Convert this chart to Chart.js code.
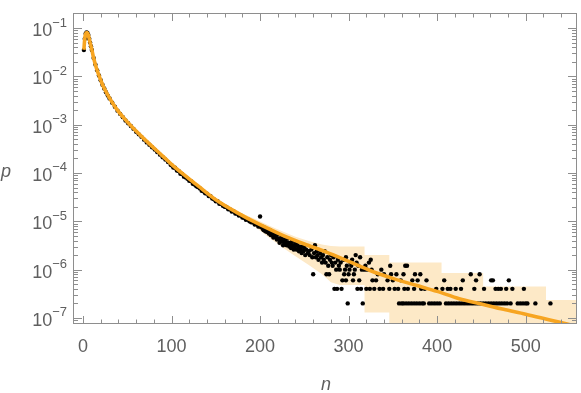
<!DOCTYPE html>
<html>
<head>
<meta charset="utf-8">
<script src="https://cdn.jsdelivr.net/npm/chart.js@4.4.1/dist/chart.umd.min.js"></script>
<style>
  body { margin: 0; background: #fff; }
  canvas { display: block; }
</style>
</head>
<body>
<canvas id="chart" width="581" height="393"></canvas>
<script>
// fitted curve p(n)
const curveN = [1, 2, 3, 4, 5, 6, 8, 10, 12, 15,
                18, 22, 26, 30, 38, 48, 60, 75, 90, 100,
                115, 130, 150, 175, 200, 225, 250, 275, 300, 325,
                350, 375, 400, 425, 450, 475, 500, 525, 550, 560];
const curveP = [3.55e-2, 6.0e-2, 7.6e-2, 8.1e-2, 7.9e-2, 7.2e-2, 5.0e-2, 3.55e-2, 2.4e-2, 1.5e-2,
                1.05e-2, 6.8e-3, 4.8e-3, 3.55e-3, 2.1e-3, 1.26e-3, 7.4e-4, 4.0e-4, 2.24e-4, 1.51e-4,
                8.9e-5, 5.4e-5, 2.8e-5, 1.48e-5, 8.5e-6, 5.2e-6, 3.4e-6, 2.3e-6, 1.48e-6, 9.5e-7,
                6.6e-7, 4.8e-7, 3.55e-7, 2.5e-7, 1.95e-7, 1.51e-7, 1.2e-7, 9.3e-8, 7.2e-8, 6.6e-8];

// measured frequencies [n, p] (dense part)
const headPoints = [
  [1,3.5e-2],[2,6.0e-2],[3,7.6e-2],[4,8.1e-2],[5,7.9e-2],[6,7.2e-2],[7,6.0e-2],[8,5.0e-2],[9,4.2e-2],[10,3.5e-2],
  [12,2.4e-2],[14,1.75e-2],[16,1.33e-2],[18,1.04e-2],[20,8.3e-3],[22,6.7e-3],[24,5.6e-3],[26,4.7e-3],[28,4.0e-3],[30,3.5e-3],
  [33,2.85e-3],[36,2.35e-3],[39,1.95e-3],[42,1.67e-3],[45,1.43e-3],[48,1.22e-3],[51,1.07e-3],[54,9.4e-4],[57,8.2e-4],[60,7.1e-4],
  [63,6.3e-4],[66,5.6e-4],[69,4.9e-4],[72,4.3e-4],[75,3.85e-4],[78,3.4e-4],[81,3.05e-4],[84,2.7e-4],[87,2.4e-4],[90,2.12e-4],
  [93,1.9e-4],[96,1.68e-4],[99,1.48e-4],
  [100,1.45e-4],[102,1.30e-4],[104,1.28e-4],[106,1.12e-4],[108,1.10e-4],[110,9.6e-5],[112,9.5e-5],[114,8.4e-5],[116,8.1e-5],[118,7.6e-5],
  [120,6.9e-5],[122,6.8e-5],[124,6.0e-5],[126,5.8e-5],[128,5.3e-5],[130,5.1e-5],[132,4.8e-5],[134,4.3e-5],[136,4.2e-5],[138,3.8e-5],
  [140,3.75e-5],[142,3.35e-5],[144,3.3e-5],[146,2.95e-5],[148,2.85e-5],[150,2.6e-5],[152,2.6e-5],[154,2.3e-5],[156,2.3e-5],[158,2.1e-5],
  [160,2.0e-5],[162,1.98e-5],[164,1.78e-5],[166,1.77e-5],[168,1.6e-5],[170,1.62e-5],[172,1.45e-5],[174,1.44e-5],[176,1.32e-5],[178,1.33e-5],
  [180,1.2e-5],[182,1.18e-5],[184,1.08e-5],[186,1.1e-5],[188,1.0e-5],[190,9.6e-6],[192,9.6e-6],[194,8.6e-6],[196,8.8e-6],[198,7.8e-6],
  [199,8.0e-6],[200,1.26e-5],
  [201,7.6e-6],[202,7.8e-6],[203,7.0e-6],[204,6.6e-6],[205,7.4e-6],[206,6.2e-6],[207,6.8e-6],[208,6.0e-6],[209,6.4e-6],[210,5.6e-6],
  [211,6.6e-6],[212,5.2e-6],[213,5.8e-6],[214,5.4e-6],[215,4.6e-6],[216,5.6e-6],[217,4.8e-6],[218,5.0e-6],[219,4.2e-6],[220,5.4e-6],
  [221,4.4e-6],[222,3.6e-6],[223,4.0e-6],[224,4.6e-6],[225,3.8e-6],[226,3.2e-6],[227,4.2e-6],[228,3.4e-6],[229,3.8e-6],[230,3.2e-6],
  [231,4.4e-6],[232,3.6e-6],[233,3.0e-6],[234,3.4e-6],[235,2.8e-6],[236,3.8e-6],[237,3.2e-6],[238,2.6e-6],[239,3.0e-6],[240,3.4e-6],
  [241,2.6e-6],[242,3.2e-6],[243,2.8e-6],[244,2.4e-6],[245,3.0e-6],[246,2.6e-6],[247,2.2e-6],[248,3.0e-6],[249,2.4e-6],[250,2.8e-6],
  [251,2.0e-6],[252,2.6e-6],[254,2.2e-6],[255,2.4e-6],[256,2.0e-6],[258,2.6e-6],[259,1.8e-6],[260,8.0e-7],[261,2.2e-6],[262,3.2e-6],
  [263,1.8e-6],[264,2.4e-6],[265,2.0e-6],[266,1.6e-6],[268,2.2e-6],[269,1.8e-6],[270,1.4e-6],[271,2.0e-6],[272,1.6e-6],[273,2.4e-6],
  [274,1.4e-6],[275,8.0e-7],[276,1.8e-6],[277,1.2e-6],[278,8.0e-7],[279,1.6e-6],[280,2.0e-6],[281,1.4e-6],[282,1.2e-6],[283,1.8e-6],
  [284,4.0e-7],[285,1.4e-6],[286,1.0e-6],[287,4.0e-7],[288,1.6e-6],[289,1.2e-6]
];

// sparse tail: single counts give fixed levels
const tailLevels = [2e-7, 4e-7, 6e-7, 8e-7, 1e-6, 1.2e-6, 1.4e-6, 1.6e-6, 1.8e-6, 2e-6];
const tailN = [
  [299, 316, 357, 360, 362, 365, 368, 371, 374, 377, 380, 383, 385, 391, 394, 397, 400, 403, 410, 413,
   416, 419, 422, 425, 428, 431, 434, 437, 440, 443, 446, 449, 452, 455, 458, 461, 464, 467, 470, 473,
   476, 479, 483, 491, 494, 497, 500, 502, 511, 528],
  [292, 310, 314, 320, 324, 329, 335, 339, 346, 352, 356, 363, 367, 374, 382, 386, 399, 406, 412, 415,
   421, 427, 442, 453, 466, 469, 472, 478, 485, 498],
  [293, 297, 305, 312, 327, 331, 344, 350, 359, 372, 378, 388, 408, 429, 444, 461, 463, 481],
  [295, 300, 306, 333, 340, 348, 354, 362, 375, 381, 438, 448],
  [290, 296, 301, 307, 315, 318, 321, 326, 337],
  [298, 303, 311, 319, 347, 364, 366],
  [291, 302, 309, 323],
  [294, 304, 325],
  [297, 313],
  [308]
];

// shaded band (lower / upper edge)
const bandN  = [165, 180, 195, 210, 225, 240, 255, 270, 280, 290,
                290, 318, 318, 346, 346, 405, 405, 452, 452, 523, 523, 560];
const bandHi = [2.05e-5, 1.45e-5, 1.1e-5, 8.2e-6, 6.2e-6, 4.8e-6, 3.9e-6, 3.3e-6, 3.1e-6, 3.0e-6,
                3.0e-6, 3.0e-6, 2.0e-6, 2.0e-6, 1.4e-6, 1.4e-6, 8.5e-7, 8.5e-7, 4.5e-7, 4.5e-7, 2.35e-7, 2.35e-7];
const bandLo = [1.75e-5, 1.15e-5, 7.5e-6, 4.6e-6, 2.9e-6, 1.9e-6, 1.25e-6, 8e-7, 5.5e-7, 4.8e-7,
                4.8e-7, 4.8e-7, 1.3e-7, 1.3e-7, 1e-8, 1e-8, 1e-8, 1e-8, 1e-8, 1e-8, 1e-8, 1e-8];

// axes
const xMajor = [0, 100, 200, 300, 400, 500];
const yMajorExp = [-1, -2, -3, -4, -5, -6, -7];

const curveData = curveN.map((n, i) => ({ x: n, y: curveP[i] }));
const pointData = headPoints.map(p => ({ x: p[0], y: p[1] }));
tailN.forEach((row, i) => row.forEach(n => pointData.push({ x: n, y: tailLevels[i] })));
const loData = bandN.map((n, i) => ({ x: n, y: bandLo[i] }));
const hiData = bandN.map((n, i) => ({ x: n, y: bandHi[i] }));

const labelColor = '#5f5f5f';
const frameColor = '#8e8e8e';
const baseFont = '18px "Liberation Sans", Arial, sans-serif';
const expFont = '13px "Liberation Sans", Arial, sans-serif';

// Mathematica-like frame with inward ticks on all four sides
const frameTicks = {
    id: 'frameTicks',
    afterDraw(chart) {
        const { ctx, chartArea: a } = chart;
        const xs = chart.scales.x, ys = chart.scales.y;
        ctx.save();
        ctx.strokeStyle = frameColor;
        ctx.lineWidth = 1;
        ctx.strokeRect(a.left + 0.5, a.top + 0.5, a.right - a.left - 1, a.bottom - a.top - 1);

        ctx.beginPath();
        // x ticks
        for (let v = 0; v <= xs.max; v += 20) {
            const px = Math.round(xs.getPixelForValue(v)) + 0.5;
            const len = v % 100 === 0 ? 8 : 4.5;
            ctx.moveTo(px, a.bottom); ctx.lineTo(px, a.bottom - len);
            ctx.moveTo(px, a.top); ctx.lineTo(px, a.top + len);
        }
        // y ticks
        for (let e = -8; e <= -1; e++) {
            for (let m = 1; m <= 9; m++) {
                const v = m * Math.pow(10, e);
                if (v < ys.min || v > ys.max) continue;
                const py = Math.round(ys.getPixelForValue(v)) + 0.5;
                const len = m === 1 ? 9 : 5;
                ctx.moveTo(a.left, py); ctx.lineTo(a.left + len, py);
                ctx.moveTo(a.right, py); ctx.lineTo(a.right - len, py);
            }
        }
        ctx.stroke();

        ctx.fillStyle = labelColor;
        ctx.textBaseline = 'alphabetic';
        // x labels
        ctx.font = baseFont;
        ctx.textAlign = 'center';
        xMajor.forEach(v => ctx.fillText(String(v), xs.getPixelForValue(v), 351.5));

        // y labels 10^e
        ctx.textAlign = 'left';
        yMajorExp.forEach(e => {
            const py = ys.getPixelForValue(Math.pow(10, e));
            const exp = '\u2212' + Math.abs(e);
            ctx.font = baseFont;
            const wb = ctx.measureText('10').width;
            ctx.font = expFont;
            const we = ctx.measureText(exp).width;
            const right = 67;
            ctx.font = baseFont;
            ctx.fillText('10', right - we - wb, py + 8);
            ctx.font = expFont;
            ctx.fillText(exp, right - we, py - 1.5);
        });

        // axis titles
        ctx.font = 'italic 18px "Liberation Sans", Arial, sans-serif';
        ctx.fillText('p', 1, 176.5);
        ctx.textAlign = 'center';
        ctx.fillText('n', 326, 390);
        ctx.restore();
    }
};

new Chart(document.getElementById('chart'), {
    type: 'line',
    data: {
        datasets: [
            {
                data: curveData,
                borderColor: 'rgb(247,165,33)',
                borderWidth: 3.6,
                pointRadius: 0,
                cubicInterpolationMode: 'monotone',
                fill: false,
                order: 0
            },
            {
                data: pointData,
                showLine: false,
                pointRadius: 2.2,
                pointBorderWidth: 0,
                pointBackgroundColor: '#000',
                order: 1
            },
            {
                data: loData,
                borderWidth: 0,
                pointRadius: 0,
                fill: false,
                order: 3
            },
            {
                data: hiData,
                borderWidth: 0,
                pointRadius: 0,
                backgroundColor: 'rgb(253,233,199)',
                fill: 2,
                order: 2
            }
        ]
    },
    options: {
        responsive: false,
        animation: false,
        layout: { padding: { left: 73, right: 3, top: 13, bottom: 69 } },
        plugins: { legend: { display: false }, tooltip: { enabled: false } },
        scales: {
            x: { type: 'linear', min: -11.3, max: 558, bounds: 'data', display: false },
            y: { type: 'logarithmic', min: 7.5e-8, max: 0.2047, bounds: 'data', display: false }
        }
    },
    plugins: [frameTicks]
});
</script>
</body>
</html>
